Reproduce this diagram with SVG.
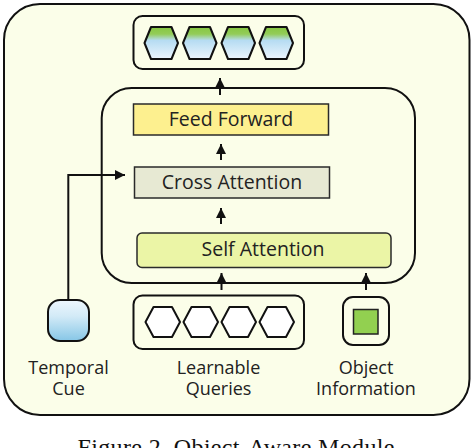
<svg xmlns="http://www.w3.org/2000/svg" width="472" height="448" viewBox="0 0 472 448">
<style>
.frame{fill:none;stroke:#111;stroke-width:2}
.blk{stroke:#2a2a2a;stroke-width:1.5}
.lbl{font-family:"Open Sans","Noto Sans","DejaVu Sans",sans-serif;font-size:18px;fill:#222;text-anchor:middle}
.btxt{font-family:"Open Sans","Noto Sans","DejaVu Sans",sans-serif;font-size:19.5px;fill:#222;text-anchor:middle}
.conn{fill:none;stroke:#111;stroke-width:2}
.hexo{fill:url(#hexg);stroke:#111;stroke-width:2;stroke-linejoin:round}
.hexw{fill:#fff;stroke:#111;stroke-width:2;stroke-linejoin:round}
</style>
<defs>
<linearGradient id="hexg" x1="0" y1="0" x2="0" y2="1">
<stop offset="0" stop-color="#86c740"/>
<stop offset="0.22" stop-color="#93cc58"/>
<stop offset="0.42" stop-color="#b6dcf2"/>
<stop offset="1" stop-color="#ecf5fd"/>
</linearGradient>
<linearGradient id="cueg" x1="0" y1="0" x2="0" y2="1">
<stop offset="0" stop-color="#eef7fd"/>
<stop offset="0.4" stop-color="#d2eaf7"/>
<stop offset="1" stop-color="#86c6e6"/>
</linearGradient>
<marker id="ah" viewBox="0 0 10 10" refX="10" refY="5" markerWidth="5" markerHeight="5" orient="auto" markerUnits="strokeWidth">
<path d="M0,0 L10,5 L0,10 Z" fill="#111"/>
</marker>
</defs>

<g id="outer">
<rect x="4" y="4" width="465.5" height="411" rx="36" ry="36" fill="#fbfee9" stroke="#111" stroke-width="2"/>
</g>

<g id="output-tokens">
<rect x="133.5" y="16" width="170.5" height="53" rx="9" class="frame"/>
<polygon class="hexo" points="151,27 171.5,27 178,43 171.5,59 151,59 144.5,43"/>
<polygon class="hexo" points="189.5,27 210,27 216.5,43 210,59 189.5,59 183,43"/>
<polygon class="hexo" points="228,27 248.5,27 255,43 248.5,59 228,59 221.5,43"/>
<polygon class="hexo" points="266,27 286.5,27 293,43 286.5,59 266,59 259.5,43"/>
</g>

<g id="decoder">
<rect x="101.7" y="88" width="313.3" height="195" rx="30" class="frame"/>
</g>

<g id="feed-forward">
<rect x="133.5" y="104" width="195" height="31" fill="#fdf08f" class="blk"/>
<text x="231" y="126" class="btxt">Feed Forward</text>
</g>

<g id="cross-attention">
<rect x="134.5" y="167" width="195" height="31" fill="#e7e9d3" class="blk"/>
<text x="232" y="189" class="btxt">Cross Attention</text>
</g>

<g id="self-attention">
<rect x="137" y="233" width="254" height="34.5" rx="5" fill="#ebf5a6" class="blk"/>
<text x="263" y="256" class="btxt">Self Attention</text>
</g>

<g id="temporal-cue">
<rect x="48" y="300" width="41" height="41" rx="12" fill="url(#cueg)" stroke="#111" stroke-width="2"/>
<text x="68.5" y="374" class="lbl">Temporal</text>
<text x="68.5" y="395" class="lbl">Cue</text>
</g>

<g id="learnable-queries">
<rect x="133.5" y="295.5" width="170.5" height="53.5" rx="9" class="frame"/>
<polygon class="hexw" points="153.5,307 172,307 180,322 172,337 153.5,337 145.5,322"/>
<polygon class="hexw" points="191.5,307 210,307 218,322 210,337 191.5,337 183.5,322"/>
<polygon class="hexw" points="229.5,307 248,307 256,322 248,337 229.5,337 221.5,322"/>
<polygon class="hexw" points="267.5,307 286,307 294,322 286,337 267.5,337 259.5,322"/>
<text x="218.5" y="374" class="lbl">Learnable</text>
<text x="218.5" y="395" class="lbl">Queries</text>
</g>

<g id="object-information">
<rect x="343" y="297" width="46" height="48" rx="10" class="frame"/>
<rect x="353.5" y="309.5" width="24.5" height="24.5" fill="#92d050" stroke="#222" stroke-width="1.5"/>
<text x="366" y="374" class="lbl">Object</text>
<text x="366" y="395" class="lbl">Information</text>
</g>

<g id="connectors">
<line x1="220" y1="95" x2="220" y2="78" class="conn" marker-end="url(#ah)"/>
<line x1="221" y1="160" x2="221" y2="144" class="conn" marker-end="url(#ah)"/>
<line x1="221" y1="224" x2="221" y2="208" class="conn" marker-end="url(#ah)"/>
<line x1="221.5" y1="290" x2="221.5" y2="273" class="conn" marker-end="url(#ah)"/>
<line x1="366" y1="290" x2="366" y2="273" class="conn" marker-end="url(#ah)"/>
<polyline points="68.3,300 68.3,175 125,175" class="conn" marker-end="url(#ah)"/>
</g>

<text x="236" y="455" font-family="'Liberation Serif','Times New Roman',serif" font-size="24" fill="#111" text-anchor="middle" textLength="317" lengthAdjust="spacing">Figure 2. Object-Aware Module</text>
</svg>
